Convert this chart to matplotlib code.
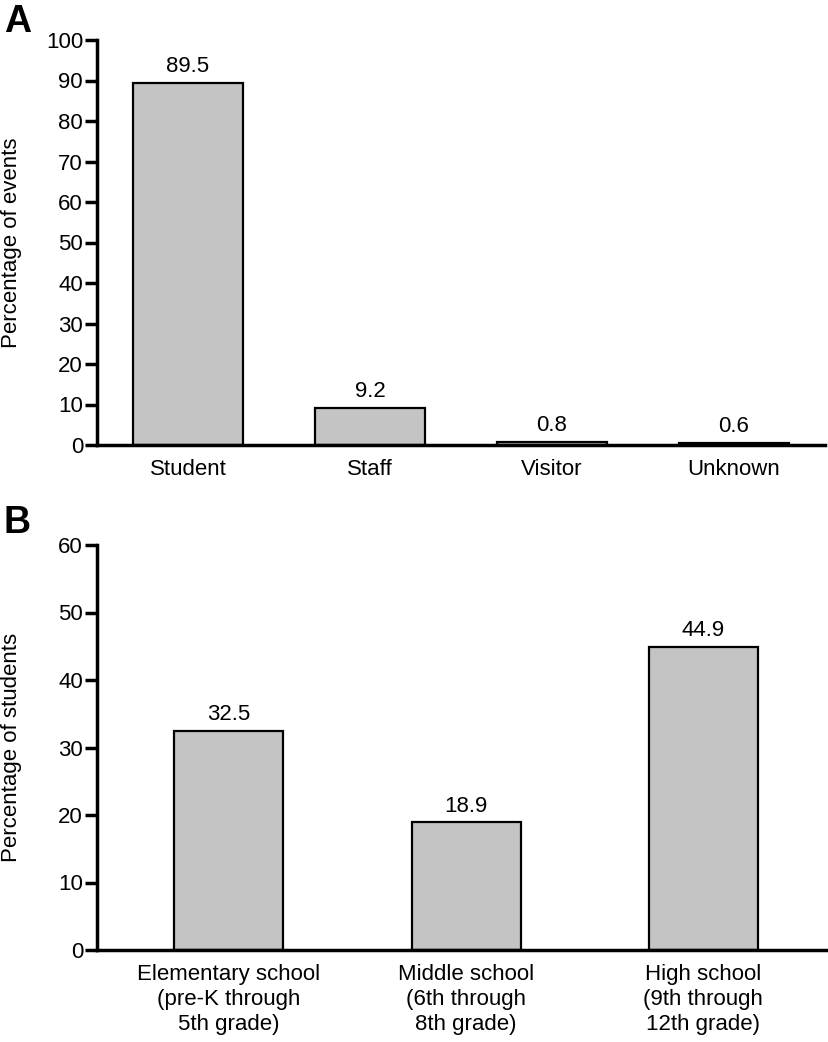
import matplotlib
matplotlib.use("Agg")
import matplotlib.pyplot as plt

plt.rcParams['font.family'] = ['Liberation Sans', 'DejaVu Sans']

cats_a = ["Student", "Staff", "Visitor", "Unknown"]
vals_a = [89.5, 9.2, 0.8, 0.6]
labels_a = ["89.5", "9.2", "0.8", "0.6"]

cats_b = ["Elementary school\n(pre-K through\n5th grade)",
          "Middle school\n(6th through\n8th grade)",
          "High school\n(9th through\n12th grade)"]
vals_b = [32.5, 18.9, 44.9]
labels_b = ["32.5", "18.9", "44.9"]

FS = 16
fig = plt.figure(figsize=(8.29, 10.42), dpi=100)
W, H = 829, 1042

def style(ax):
    for s in ["top", "right"]:
        ax.spines[s].set_visible(False)
    ax.spines["left"].set_linewidth(2.5)
    ax.spines["bottom"].set_linewidth(2.5)
    ax.tick_params(axis="y", length=9, width=2.5, labelsize=FS, pad=1)
    ax.tick_params(axis="x", length=0, labelsize=FS, pad=10)

axA = fig.add_axes([97 / W, 1 - 445 / H, (825 - 97) / W, (445 - 40) / H])
xa = list(range(len(cats_a)))
axA.bar(xa, vals_a, width=0.6, color="#c4c4c4", edgecolor="black", linewidth=1.6)
axA.set_xlim(-0.5, 3.5)
axA.set_ylim(0, 100)
axA.set_yticks(range(0, 101, 10))
axA.set_xticks(xa)
axA.set_xticklabels(cats_a)
axA.set_ylabel("Percentage of events", fontsize=FS)
axA.yaxis.set_label_coords(-75 / 728, 0.5)
for x, v, t in zip(xa, vals_a, labels_a):
    axA.annotate(t, (x, v), xytext=(0, 4), textcoords="offset points",
                 ha="center", va="bottom", fontsize=FS)
style(axA)

axB = fig.add_axes([97 / W, 1 - 950 / H, (829 - 97) / W, (950 - 545) / H])
xb = list(range(len(cats_b)))
axB.bar(xb, vals_b, width=0.46, color="#c4c4c4", edgecolor="black", linewidth=1.6)
axB.set_xlim(-0.556, 2.53)
axB.set_ylim(0, 60)
axB.set_yticks(range(0, 61, 10))
axB.set_xticks(xb)
axB.set_xticklabels(cats_b, linespacing=1.25)
axB.set_ylabel("Percentage of students", fontsize=FS)
axB.yaxis.set_label_coords(-75 / 732, 0.5)
for x, v, t in zip(xb, vals_b, labels_b):
    axB.annotate(t, (x, v), xytext=(0, 4), textcoords="offset points",
                 ha="center", va="bottom", fontsize=FS)
style(axB)

fig.text(4 / W, 1 - 4 / H, "A", fontsize=27, fontweight="bold", ha="left", va="top")
fig.text(4 / W, 1 - 505 / H, "B", fontsize=27, fontweight="bold", ha="left", va="top")

fig.savefig("out.png", dpi=100)
